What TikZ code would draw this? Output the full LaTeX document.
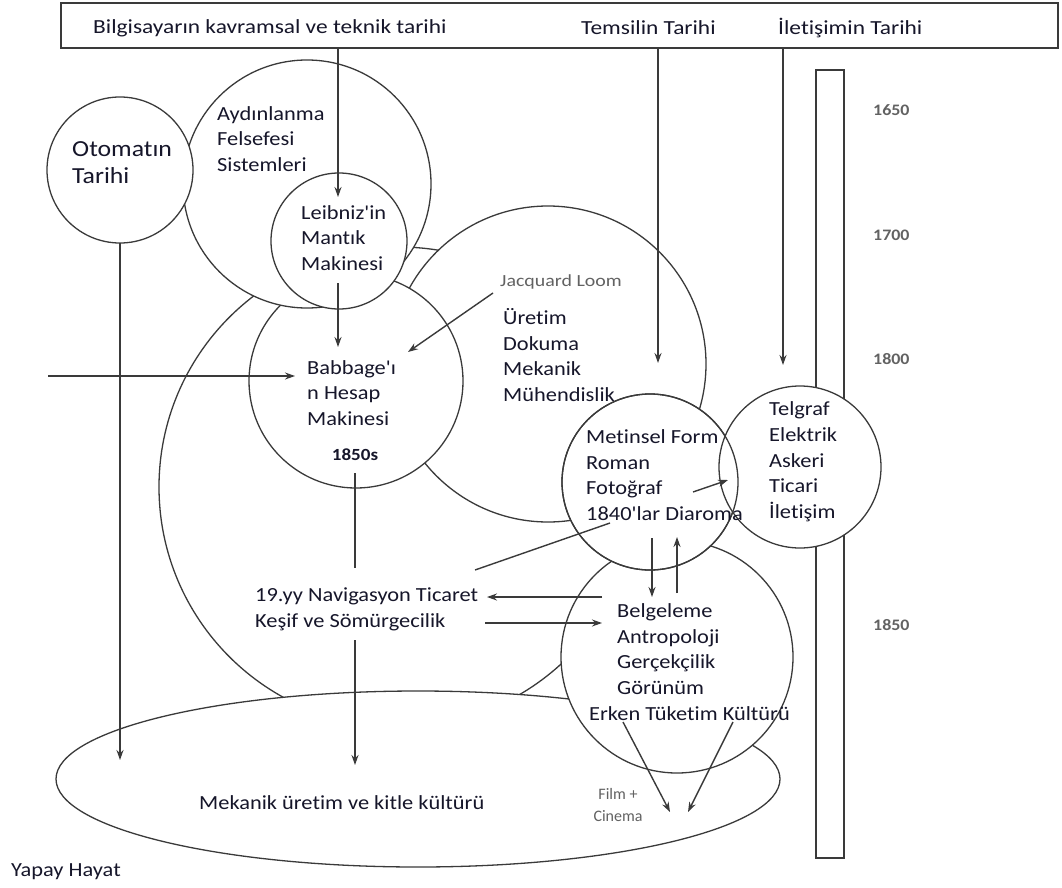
\documentclass[tikz,border=0pt]{standalone}
\usepackage{fontspec}
\newfontfamily\cf[FakeStretch=1.12,Ligatures=NoCommon]{Carlito}
\newfontfamily\cfw[FakeStretch=1.17,Ligatures=NoCommon]{Carlito}
\newfontfamily\cfn[Ligatures=NoCommon]{Carlito}
\usetikzlibrary{arrows.meta,shapes.geometric}
\definecolor{lc}{HTML}{3A3A3A}
\definecolor{tc}{HTML}{16162A}
\definecolor{gc}{HTML}{626262}
\begin{document}
\begin{tikzpicture}[x=1pt,y=-1pt,
  line/.style={draw=lc, line width=1.4pt},
  arr/.style={line, -{Stealth[length=10pt,width=7pt]}},
  bub/.style={circle, draw=lc, line width=1.3pt, fill=white, inner sep=0pt, outer sep=0pt},
  rim/.style={circle, draw=lc, line width=1.3pt, inner sep=0pt, outer sep=0pt},
  box/.style={rectangle, draw=lc, line width=1.3pt, fill=white, inner sep=0pt, outer sep=0pt},
  txt/.style={font=\cf\fontsize{20}{25.7}\selectfont, text=tc, align=left, inner sep=0pt, anchor=west},
  head/.style={txt, font=\cfw\fontsize{20}{24}\selectfont},
  big/.style={txt, font=\cf\fontsize{23}{27}\selectfont},
  small/.style={txt, font=\cfw\fontsize{17}{19}\selectfont, text=gc},
  yr/.style={txt, font=\cf\fontsize{16}{18}\selectfont\bfseries, text=gc},
  film/.style={font=\cfn\fontsize{16}{22}\selectfont, text=gc, align=center, inner sep=0pt}
]
\useasboundingbox (0,0) rectangle (1062,888);
% ---- shapes, back to front
\node[bub, minimum size=480pt] (bigc) at (399,487) {};
\node[bub, ellipse, minimum width=724pt, minimum height=176pt] (mass) at (418,779) {};
\node[bub, minimum size=316pt] (uret) at (548,364) {};
\node[bub, minimum size=214pt] (babb) at (356,381) {};
\node[bub, minimum size=248pt] (aydin) at (307,184) {};
\node[bub, minimum size=136pt] (leib) at (339,241) {};
\node[bub, minimum size=146pt] (oto) at (120,170) {};
\node[bub, minimum size=232pt] (belg) at (677,657) {};
\node[box, minimum width=28pt, minimum height=788pt] (tl) at (830,464) {};
\node[bub, minimum size=176pt] (metin) at (650,482) {};
\node[bub, minimum size=162pt] (telg) at (800,467) {};
\node[rim, minimum size=176pt] (metinrim) at (650,482) {};
\node[box, minimum width=997pt, minimum height=45pt] (bar) at (559.5,25.5) {};
% ---- texts
\node[head] (tbil) at (93,28) {Bilgisayarın kavramsal ve teknik tarihi};
\node[head] (ttem) at (581,28) {Temsilin Tarihi};
\node[head] (tile) at (778,28) {İletişimin Tarihi};
\node[big] (toto) at (72,163) {Otomatın\\Tarihi};
\node[txt] (tayd) at (217,139) {Aydınlanma\\Felsefesi\\Sistemleri};
\node[txt] (tlei) at (301,238) {Leibniz'in\\Mantık\\Makinesi};
\node[small] (tjac) at (500,282) {Jacquard Loom};
\node[txt] (ture) at (503,355) {Üretim\\Dokuma\\Mekanik\\Mühendislik};
\node[txt] (tbab) at (307,393) {Babbage'ı\\n Hesap\\Makinesi};
\node[txt, anchor=center, font=\cf\fontsize{17}{20}\selectfont\bfseries] (t1850) at (355,455) {1850s};
\node[txt] (tmet) at (586,475) {Metinsel Form\\Roman\\Fotoğraf\\1840'lar Diaroma};
\node[txt] (ttel) at (769,462) {Telgraf\\Elektrik\\Askeri\\Ticari\\İletişim};
\node[txt] (tnav) at (255,609) {19.yy Navigasyon Ticaret\\Keşif ve Sömürgecilik};
\node[txt] (tbel) at (617,649) {Belgeleme\\Antropoloji\\Gerçekçilik\\Görünüm};
\node[txt] (terk) at (589,714) {Erken Tüketim Kültürü};
\node[txt] (tmek) at (199,803) {Mekanik üretim ve kitle kültürü};
\node[film] (tfilm) at (618,805) {Film +\\Cinema};
\node[txt] (tyap) at (11,872) {Yapay Hayat};
\node[yr] (y1650) at (873,110) {1650};
\node[yr] (y1700) at (873,235) {1700};
\node[yr] (y1800) at (873,359) {1800};
\node[yr] (y1850) at (873,625) {1850};
% ---- connectors
\coordinate (a1) at (338,197);
\coordinate (a2) at (658,363);
\coordinate (a3) at (783,365);
\draw[arr] (a1 |- bar.south) -- (a1);
\draw[arr] (a2 |- bar.south) -- (a2);
\draw[arr] (a3 |- bar.south) -- (a3);
\coordinate (lb0) at (338,283); \coordinate (lb1) at (338,347);
\draw[arr] (lb0) -- (lb1);
\coordinate (in0) at (48,376); \coordinate (in1) at (295,376);
\draw[arr] (in0) -- (in1);
\coordinate (jq0) at (493,293); \coordinate (jq1) at (408,352);
\draw[arr] (jq0) -- (jq1);
\coordinate (ot1) at (120,760);
\draw[arr] (oto.south) -- (ot1);
\coordinate (bn0) at (355,473); \coordinate (bn1) at (355,568);
\draw[line] (bn0) -- (bn1);
\coordinate (km0) at (355,640); \coordinate (km1) at (355,765);
\draw[arr] (km0) -- (km1);
\coordinate (tc0) at (602,597); \coordinate (tc1) at (487,597);
\draw[arr] (tc0) -- (tc1);
\coordinate (ks0) at (485,623); \coordinate (ks1) at (602,623);
\draw[arr] (ks0) -- (ks1);
\coordinate (md0) at (652,538); \coordinate (md1) at (652,597);
\draw[arr] (md0) -- (md1);
\coordinate (mu0) at (677,593); \coordinate (mu1) at (677,537);
\draw[arr] (mu0) -- (mu1);
\coordinate (ft0) at (693,492); \coordinate (ft1) at (728,480);
\draw[arr] (ft0) -- (ft1);
\coordinate (dl0) at (475,570); \coordinate (dl1) at (610,523);
\draw[line] (dl0) -- (dl1);
\coordinate (ea0) at (623,722); \coordinate (ea1) at (670,812);
\draw[arr] (ea0) -- (ea1);
\coordinate (eb0) at (733,722); \coordinate (eb1) at (688,812);
\draw[arr] (eb0) -- (eb1);
\end{tikzpicture}
\end{document}
